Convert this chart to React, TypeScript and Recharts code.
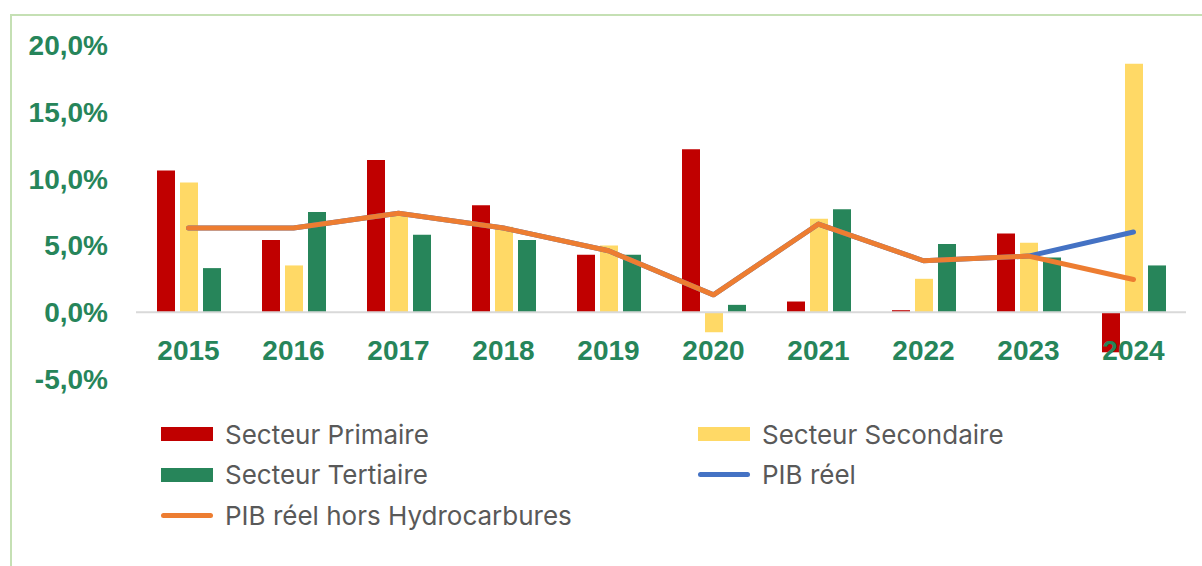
import { ComposedChart, Bar, Line, XAxis, YAxis, ReferenceLine } from "recharts";

const years = ["2015", "2016", "2017", "2018", "2019", "2020", "2021", "2022", "2023", "2024"];
const primaire = [10.6, 5.4, 11.4, 8.0, 4.3, 12.2, 0.8, 0.15, 5.9, -3.0];
const secondaire = [9.7, 3.5, 7.2, 6.4, 5.0, -1.5, 7.0, 2.5, 5.2, 18.6];
const tertiaire = [3.3, 7.5, 5.8, 5.4, 4.3, 0.55, 7.7, 5.1, 4.1, 3.5];
const pibReel = [6.3, 6.3, 7.4, 6.3, 4.6, 1.3, 6.6, 3.85, 4.2, 6.0];
const pibHorsHydro = [6.3, 6.3, 7.4, 6.3, 4.6, 1.3, 6.6, 3.85, 4.2, 2.45];
const yTicks = [-5, 0, 5, 10, 15, 20];

const GREEN_TXT = "#26855a";

const series = [
  { key: "primaire", name: "Secteur Primaire", color: "#c00000", type: "bar" },
  { key: "secondaire", name: "Secteur Secondaire", color: "#ffd966", type: "bar" },
  { key: "tertiaire", name: "Secteur Tertiaire", color: "#27855a", type: "bar" },
  { key: "pibReel", name: "PIB réel", color: "#4472c4", type: "line" },
  { key: "pibHorsHydro", name: "PIB réel hors Hydrocarbures", color: "#ed7d31", type: "line" },
];

const data = years.map((y, i) => ({
  year: y,
  primaire: primaire[i],
  secondaire: secondaire[i],
  tertiaire: tertiaire[i],
  pibReel: pibReel[i],
  pibHorsHydro: pibHorsHydro[i],
}));

const fmt = (v: number) => v.toFixed(1).replace(".", ",") + "%";

const YearTick = (props: any) => {
  const { x, y, payload } = props;
  return (
    <text
      x={x}
      y={y - 19}
      textAnchor="middle"
      fill={GREEN_TXT}
      fontSize={28}
      fontWeight={700}
      fontFamily="'Liberation Sans', Arial, sans-serif"
    >
      {payload.value}
    </text>
  );
};

const LegendItem = ({ s }: { s: (typeof series)[number] }) => (
  <div style={{ display: "flex", alignItems: "center", height: 40.5 }}>
    {s.type === "bar" ? (
      <div style={{ width: 52, height: 14, background: s.color }} />
    ) : (
      <div style={{ width: 52, height: 5, background: s.color, borderRadius: 3 }} />
    )}
    <span style={{ marginLeft: 12, fontSize: 26, color: "#595959", whiteSpace: "nowrap" }}>{s.name}</span>
  </div>
);

export default function App() {
  return (
    <div
      style={{
        position: "fixed",
        left: 0,
        top: 0,
        width: 1202,
        height: 566,
        overflow: "hidden",
        background: "#fff",
        fontFamily: "Inter, 'Open Sans', sans-serif",
      }}
    >
      <div
        style={{
          position: "absolute",
          left: 10,
          top: 14,
          width: 1240,
          height: 620,
          border: "2px solid #c5e0b4",
        }}
      />
      <div style={{ position: "absolute", left: 0, top: 0 }}>
        <ComposedChart
          width={1202}
          height={400}
          data={data}
          margin={{ top: 45, right: 16, bottom: 0, left: 0 }}
          barSize={18}
          barGap={5}
        >
          <YAxis
            width={136}
            domain={[-5, 20]}
            ticks={yTicks}
            tickFormatter={fmt}
            axisLine={false}
            tickLine={false}
            tickSize={0}
            tickMargin={28}
            tick={{
              fill: GREEN_TXT,
              fontSize: 28,
              fontWeight: 700,
              fontFamily: "'Liberation Sans', Arial, sans-serif",
            }}
          />
          <ReferenceLine y={0} stroke="#d9d9d9" strokeWidth={2} />
          {series
            .filter((s) => s.type === "bar")
            .map((s) => (
              <Bar key={s.key} dataKey={s.key} name={s.name} fill={s.color} isAnimationActive={false} />
            ))}
          {series
            .filter((s) => s.type === "line")
            .map((s) => (
              <Line
                key={s.key}
                dataKey={s.key}
                name={s.name}
                type="linear"
                stroke={s.color}
                strokeWidth={5}
                strokeLinecap="round"
                strokeLinejoin="round"
                dot={false}
                activeDot={false}
                isAnimationActive={false}
              />
            ))}
          <XAxis
            dataKey="year"
            height={21}
            axisLine={false}
            tickLine={false}
            tickSize={0}
            tickMargin={0}
            tick={YearTick}
            interval={0}
            zIndex={1000}
          />
        </ComposedChart>
      </div>
      <div
        style={{
          position: "absolute",
          left: 161,
          top: 414,
          display: "grid",
          gridTemplateColumns: "537px 400px",
        }}
      >
        {series.map((s) => (
          <LegendItem key={s.key} s={s} />
        ))}
      </div>
    </div>
  );
}
